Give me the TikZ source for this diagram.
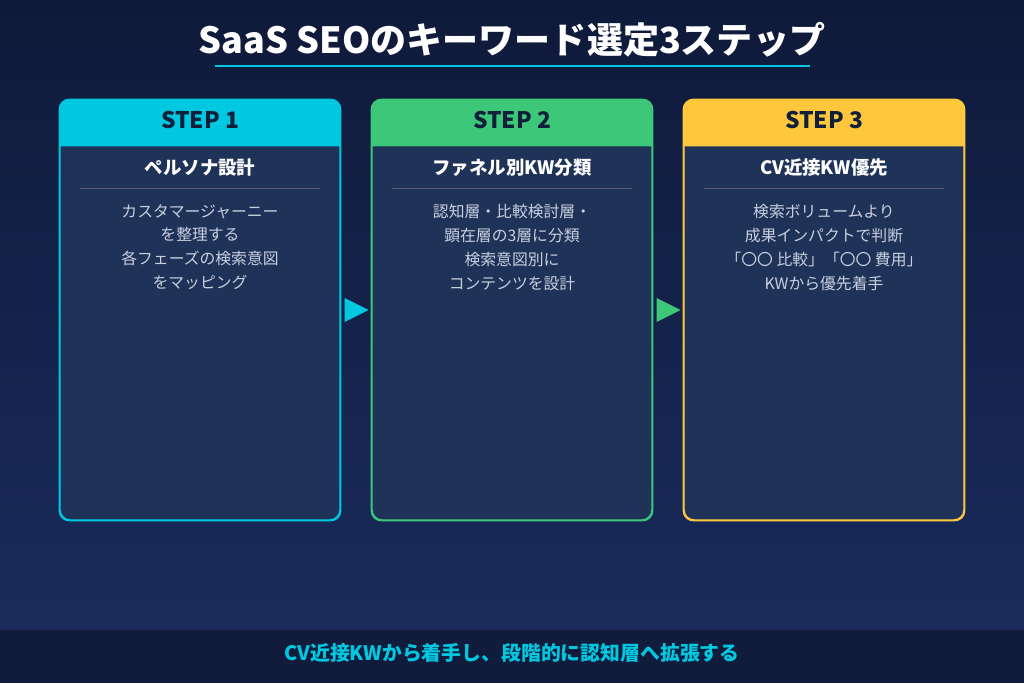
\documentclass[tikz,border=0pt]{standalone}
\usepackage{fontspec}
\setmainfont{Noto Sans CJK JP}
\usetikzlibrary{positioning, calc, arrows.meta}
\definecolor{bgtop}{HTML}{0F1A3A}
\definecolor{bgbot}{HTML}{1A2B5C}
\definecolor{band}{HTML}{111C3C}
\definecolor{cardbody}{HTML}{1F3258}
\definecolor{stepcyan}{HTML}{00C8E0}
\definecolor{stepgreen}{HTML}{3CC878}
\definecolor{stepyellow}{HTML}{FFC83C}
\definecolor{bodytext}{HTML}{C8D0E0}
\definecolor{headtext}{HTML}{10203A}
\tikzset{
  card/.style={draw=#1, thick, fill=cardbody, rounded corners=0.2cm,
    minimum width=5.6cm, minimum height=8.4cm, inner sep=0pt},
  steplabel/.style={text=headtext, font=\bfseries\fontsize{13}{15}\selectfont},
  cardtitle/.style={text=white, font=\bfseries\fontsize{10.5}{12}\selectfont},
  cardbody/.style={text=bodytext, align=center, font=\fontsize{9}{13.6}\selectfont}
}
\begin{document}
\begin{tikzpicture}[x=0.02cm, y=-0.02cm]
	\shade[top color=bgtop, bottom color=bgbot] (0,0) rectangle (1024,630);
	\fill[band] (0,630) rectangle (1024,683);
	\useasboundingbox (0,0) rectangle (1024,683);

	\node[text=white, font=\bfseries\fontsize{20.5}{24}\selectfont] (title) at (512,40) {SaaS SEOのキーワード選定3ステップ};
	\draw[stepcyan, line width=1.5pt] (215,66) -- (810,66);

	\foreach \i/\cx/\col/\head/\body in {
		1/200/stepcyan/ペルソナ設計/{カスタマージャーニー\\を整理する\\各フェーズの検索意図\\をマッピング},
		2/512/stepgreen/ファネル別KW分類/{認知層・比較検討層・\\顕在層の3層に分類\\検索意図別に\\コンテンツを設計},
		3/824/stepyellow/CV近接KW優先/{検索ボリュームより\\成果インパクトで判断\\「〇〇 比較」「〇〇 費用」\\KWから優先着手}} {
		\node[card=\col] (card\i) at (\cx,310) {};
		\fill[\col] ($(card\i.north west)+(0,47)$) [rounded corners=0.2cm] -- (card\i.north west) -- (card\i.north east) [sharp corners] -- ($(card\i.north east)+(0,47)$) -- cycle;
		\draw[\col, thick, rounded corners=0.2cm] (card\i.south west) rectangle (card\i.north east);
		\node[steplabel] (step\i) at (\cx,120) {STEP \i};
		\node[cardtitle] (head\i) at (\cx,168) {\head};
		\draw[gray!60!cardbody] (\cx-120,188) -- (\cx+120,188);
		\node[cardbody, anchor=north] (body\i) at (\cx,198) {\body};
	}

	% step markers
	\fill[stepcyan] ($(card1.east)+(4,-12)$) -- ($(card1.east)+(28,0)$) -- ($(card1.east)+(4,12)$) -- cycle;
	\fill[stepgreen] ($(card2.east)+(4,-12)$) -- ($(card2.east)+(28,0)$) -- ($(card2.east)+(4,12)$) -- cycle;

	\node[text=stepcyan, font=\bfseries\fontsize{11.3}{13}\selectfont] (summary) at (512,653) {CV近接KWから着手し、段階的に認知層へ拡張する};
\end{tikzpicture}
\end{document}
